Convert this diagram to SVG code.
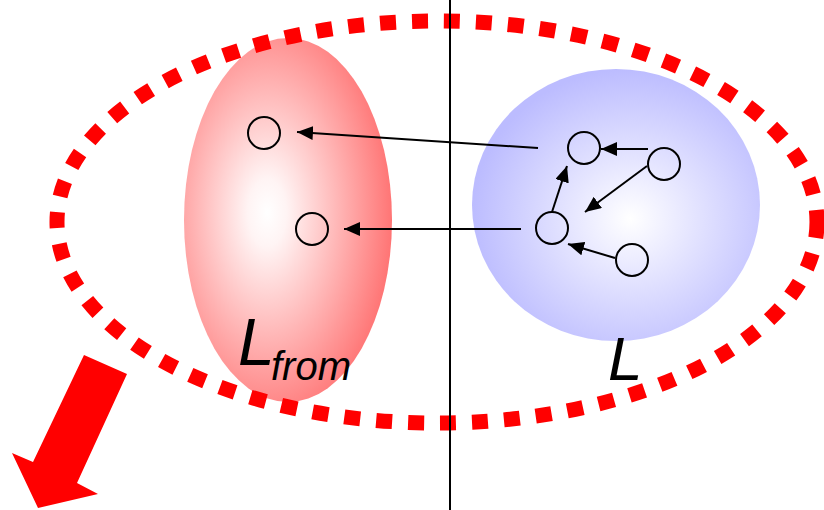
<svg xmlns="http://www.w3.org/2000/svg" width="824" height="510" viewBox="0 0 824 510">
<defs>
<radialGradient id="gr" cx="0.4" cy="0.48" r="0.62">
<stop offset="0" stop-color="#ffffff"/>
<stop offset="0.15" stop-color="#fff4f4"/>
<stop offset="1" stop-color="#ff7070"/>
</radialGradient>
<radialGradient id="gb" cx="0.55" cy="0.55" r="0.55">
<stop offset="0" stop-color="#ffffff"/>
<stop offset="1" stop-color="#bcbcff"/>
</radialGradient>
<marker id="ah" viewBox="0 0 16 14" refX="16" refY="7" markerWidth="16" markerHeight="14" markerUnits="userSpaceOnUse" orient="auto">
<path d="M0,0 L16,7 L0,14 z" fill="#000"/>
</marker>
<style>
.n{fill:none;stroke:#000;stroke-width:2}
.c{stroke:#000;stroke-width:2;fill:none;marker-end:url(#ah)}
.t{font-family:"Liberation Sans",Arial,sans-serif;font-style:italic;fill:#000}
</style>
</defs>
<g id="red-region">
<ellipse cx="288" cy="220" rx="104" ry="182" fill="url(#gr)"/>
<text class="t" x="238" y="365" font-size="66">L</text>
<text class="t" x="271" y="380" font-size="40">from</text>
</g>
<g id="blue-region">
<ellipse cx="616" cy="205" rx="144" ry="136" fill="url(#gb)"/>
<text class="t" x="608" y="380" font-size="62">L</text>
</g>
<g id="boundary">
<ellipse cx="437" cy="222" rx="380" ry="201" fill="none" stroke="#ff0000" stroke-width="15" stroke-dasharray="16 16"/>
</g>
<line x1="450" y1="0" x2="450" y2="510" stroke="#000" stroke-width="2"/>
<g id="nodes">
<circle id="n1" class="n" cx="264" cy="133" r="16"/>
<circle id="n2" class="n" cx="312" cy="229" r="16"/>
<circle id="n3" class="n" cx="584" cy="148" r="16"/>
<circle id="n4" class="n" cx="664" cy="164" r="16"/>
<circle id="n5" class="n" cx="552" cy="228" r="16"/>
<circle id="n6" class="n" cx="632" cy="260" r="16"/>
</g>
<g id="connectors">
<line class="c" x1="538" y1="148" x2="297" y2="132"/>
<line class="c" x1="521" y1="229" x2="344" y2="229"/>
<line class="c" x1="648" y1="149" x2="601" y2="149"/>
<line class="c" x1="647" y1="166" x2="585" y2="212"/>
<line class="c" x1="552" y1="212" x2="567" y2="166"/>
<line class="c" x1="615" y1="258" x2="568" y2="244"/>
</g>
<g id="big-arrow">
<polygon points="84,355 127,374 77,483 98,494 38,508 12,453 33,462" fill="#ff0000"/>
</g>
</svg>
